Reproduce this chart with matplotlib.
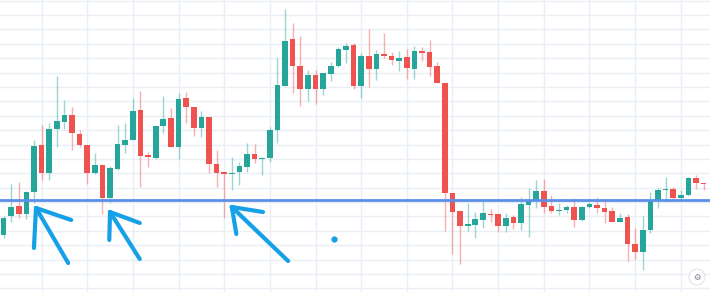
import numpy as np
import matplotlib.pyplot as plt
from matplotlib.patches import Ellipse

# candle data (price units, arbitrary scale)
opens = [57, 76, 86, 78, 100, 147, 119, 163, 170, 177, 158, 147, 119, 127, 94, 123, 147, 152, 182, 137,
         134, 166, 174, 145, 194, 185, 164, 175, 128, 120, 118, 120, 125, 138, 133, 134, 162, 206, 253, 226,
         203, 217, 203, 218, 226, 242, 247, 206, 236, 223, 238, 236, 231, 235, 223, 241, 240, 226, 209, 99,
         81, 66, 67, 72, 78, 78, 66, 75, 69, 87, 92, 101, 86, 81, 82, 85, 72, 85, 87, 84,
         81, 70, 75, 48, 40, 62, 92, 102, 103, 94, 97, 114, 109]
closes = [74, 85, 78, 100, 146, 119, 163, 171, 177, 159, 147, 119, 127, 94, 124, 148, 152, 181, 136, 135,
          166, 173, 145, 193, 185, 164, 175, 128, 119, 118, 119, 126, 138, 133, 134, 162, 207, 251, 226, 203,
          217, 203, 219, 226, 243, 246, 206, 236, 223, 238, 236, 232, 234, 224, 241, 239, 225, 209, 99, 80,
          66, 68, 73, 79, 77, 66, 74, 69, 88, 92, 101, 85, 81, 82, 85, 72, 85, 88, 84, 80,
          70, 74, 48, 40, 62, 92, 102, 103, 94, 97, 114, 109, 108]
highs = [76, 108, 110, 101, 152, 167, 169, 216, 192, 185, 162, 147, 139, 127, 126, 167, 169, 194, 201, 140,
         167, 196, 184, 199, 200, 185, 181, 175, 142, 120, 135, 130, 149, 148, 135, 165, 234, 283, 269, 256,
         222, 222, 219, 230, 245, 249, 249, 239, 263, 242, 259, 240, 241, 243, 246, 245, 252, 230, 209, 99,
         81, 89, 80, 91, 83, 78, 79, 77, 95, 104, 112, 113, 97, 89, 87, 94, 86, 90, 95, 93,
         85, 79, 78, 64, 76, 100, 104, 115, 105, 102, 115, 117, 109]
lows = [54, 70, 74, 73, 89, 112, 112, 145, 163, 142, 145, 108, 118, 78, 89, 122, 139, 152, 105, 125,
        133, 159, 145, 133, 169, 156, 155, 119, 105, 74, 102, 107, 120, 129, 117, 130, 149, 206, 199, 186,
        191, 188, 197, 211, 225, 229, 203, 194, 205, 212, 234, 227, 221, 213, 213, 231, 216, 209, 61, 38,
        28, 61, 54, 64, 70, 60, 60, 63, 62, 55, 84, 79, 79, 77, 79, 65, 71, 84, 79, 69,
        70, 70, 31, 33, 22, 59, 84, 90, 93, 93, 96, 103, 102]

support_level = 92

# hand-drawn marks: arrows (tip, barb, barb, tail) and a dot, in candle-index / price coords
arrows = [
    [(4.27, 84), (4.0, 44), (8.9, 72), (8.5, 29)],
    [(14.0, 80), (13.9, 52), (17.9, 69), (17.9, 33)],
    [(30.0, 85), (30.6, 58), (34.1, 80), (37.4, 31)],
]
dot = (43.4, 53)

up_color = '#26a69a'
down_color = '#ef5350'

fig = plt.figure(figsize=(7.1, 2.92), dpi=100)
ax = fig.add_axes([0, 0, 1, 1])
ax.set_facecolor('white')

x = np.arange(len(opens))
o = np.array(opens, dtype=float)
c = np.array(closes, dtype=float)
colors = [up_color if cc >= oo else down_color for oo, cc in zip(o, c)]

# grid
for gx in range(5, len(opens), 6):
    ax.axvline(gx, color='#eaeff6', lw=1, zorder=0)
for gy in np.arange(3.7, 292, 14.38):
    ax.axhline(gy, color='#eaeff6', lw=1, zorder=0)

# wicks and bodies
ax.vlines(x, lows, highs, colors=colors, lw=1, alpha=0.45, zorder=2)
bottom = np.minimum(o, c)
height = np.maximum(np.abs(c - o), 1.2)
ax.bar(x, height, bottom=bottom, width=0.74, color=colors, lw=0, zorder=3)

# support line
ax.axhline(support_level, color='#5b8fe8', lw=2, zorder=4)

# drawings
brush = '#16a0e8'
for tip, b1, b2, tail in arrows:
    for p in (b1, b2, tail):
        ax.plot([tip[0], p[0]], [tip[1], p[1]], color=brush, lw=3,
                solid_capstyle='round', zorder=5)
ax.plot(*dot, 'o', color=brush, ms=3.5, zorder=5)

ax.set_xlim(-0.46, 92.84)
ax.set_ylim(0, 292)
ax.axis('off')

# settings icon
fig.patches.append(Ellipse((697 / 710, 15 / 292), 16 / 710, 16 / 292, transform=fig.transFigure,
                           facecolor='white', edgecolor='#e0e3eb', lw=0.8))
fig.text(697 / 710, 15 / 292, '\u2699', ha='center', va='center', fontsize=6,
         color='#787b86', family=['DejaVu Sans'])

plt.savefig('out.png', dpi=100)
